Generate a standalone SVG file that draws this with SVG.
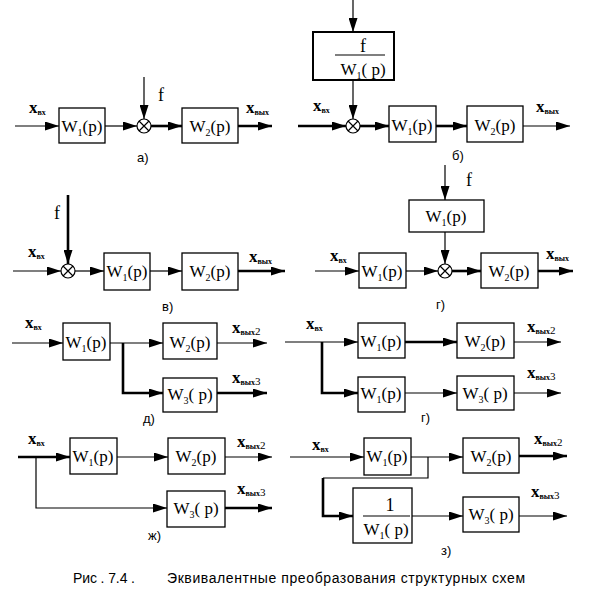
<svg xmlns="http://www.w3.org/2000/svg" width="590" height="591" viewBox="0 0 590 591">
<defs>
<marker id="ah" viewBox="0 0 14 9" refX="14" refY="4.5" markerWidth="14" markerHeight="9" markerUnits="userSpaceOnUse" orient="auto"><path d="M0,0 L14,4.5 L0,9 z" fill="#000"/></marker>
<style>
.ln{fill:none;stroke:#000;stroke-width:1.2}
.tk{fill:none;stroke:#000;stroke-width:2.6}
.ar{marker-end:url(#ah)}
.box{fill:#fff;stroke:#000;stroke-width:1.3}
.sum{fill:#fff;stroke:#000;stroke-width:1.2}
.w{font-family:"Liberation Serif","DejaVu Serif",serif;font-size:17px;fill:#000}
.s{font-size:10px}
.xl{font-family:"Liberation Serif","DejaVu Serif",serif;font-size:17px;font-weight:bold;fill:#000}
.xs{font-size:8px;font-weight:bold}
.xn{font-size:11px;font-weight:normal}
.f{font-family:"Liberation Serif","DejaVu Serif",serif;font-size:18px;fill:#000}
.lb{font-family:"Liberation Sans",Arial,sans-serif;font-size:13px;fill:#000}
.cap{font-family:"Liberation Sans",Arial,sans-serif;font-size:14px;fill:#000}
</style>
</defs>
<rect width="590" height="591" fill="#fff"/>

<g id="connectors">
<line class="ln ar" x1="15" y1="126" x2="59" y2="126"/>
<line class="ln ar" x1="105" y1="126" x2="137" y2="126"/>
<line class="ln ar" x1="144" y1="77" x2="144" y2="119"/>
<line class="tk ar" x1="151" y1="126" x2="182" y2="126"/>
<line class="tk ar" x1="238" y1="126" x2="272" y2="126"/>
<line class="ln ar" x1="353" y1="0" x2="353" y2="32"/>
<line class="ln ar" x1="353" y1="80" x2="353" y2="119"/>
<line class="tk ar" x1="298" y1="126" x2="346" y2="126"/>
<line class="tk ar" x1="360" y1="126" x2="389" y2="126"/>
<line class="tk ar" x1="436" y1="126" x2="467" y2="126"/>
<line class="ln ar" x1="523" y1="126" x2="570" y2="126"/>
<line class="tk ar" x1="68" y1="195" x2="68" y2="264"/>
<line class="ln ar" x1="13" y1="271" x2="61" y2="271"/>
<line class="ln ar" x1="75" y1="271" x2="104" y2="271"/>
<line class="ln ar" x1="150" y1="271" x2="182" y2="271"/>
<line class="tk ar" x1="238" y1="271" x2="285" y2="271"/>
<line class="ln ar" x1="445" y1="165" x2="445" y2="200"/>
<line class="ln ar" x1="445" y1="232" x2="445" y2="264"/>
<line class="ln ar" x1="315" y1="271" x2="359" y2="271"/>
<line class="ln ar" x1="406" y1="271" x2="438" y2="271"/>
<line class="tk ar" x1="452" y1="271" x2="481" y2="271"/>
<line class="tk ar" x1="538" y1="271" x2="573" y2="271"/>
<line class="ln ar" x1="12" y1="343" x2="63" y2="343"/>
<line class="ln ar" x1="110" y1="343" x2="163" y2="343"/>
<polyline class="tk ar" points="123,343 123,393 163,393"/>
<line class="ln ar" x1="217" y1="343" x2="267" y2="343"/>
<line class="tk ar" x1="217" y1="393" x2="267" y2="393"/>
<line class="ln ar" x1="285" y1="342" x2="358" y2="342"/>
<polyline class="tk ar" points="322,342 322,393 358,393"/>
<line class="tk ar" x1="405" y1="342" x2="457" y2="342"/>
<line class="ln ar" x1="514" y1="342" x2="561" y2="342"/>
<line class="ln ar" x1="405" y1="393" x2="457" y2="393"/>
<line class="ln ar" x1="514" y1="393" x2="561" y2="393"/>
<line class="tk ar" x1="18" y1="457" x2="70" y2="457"/>
<polyline class="ln ar" points="36,457 36,508 167,508"/>
<line class="ln ar" x1="117" y1="457" x2="168" y2="457"/>
<line class="ln ar" x1="225" y1="457" x2="272" y2="457"/>
<line class="tk ar" x1="225" y1="508" x2="272" y2="508"/>
<line class="ln ar" x1="290" y1="457" x2="364" y2="457"/>
<line class="ln ar" x1="411" y1="457" x2="463" y2="457"/>
<polyline class="ln" points="428,457 428,478 323,478"/>
<polyline class="tk ar" points="323,478 323,516 353,516"/>
<line class="tk ar" x1="519" y1="456" x2="567" y2="456"/>
<line class="ln ar" x1="412" y1="516" x2="463" y2="516"/>
<line class="ln ar" x1="519" y1="516" x2="567" y2="516"/>
</g>

<g id="a-w1"><rect class="box" x="59" y="108" width="46" height="35"/><text class="w" x="82" y="132" text-anchor="middle">W<tspan class="s" dy="4">1</tspan><tspan dy="-4">(p)</tspan></text></g>
<g id="a-sum"><circle class="sum" cx="144" cy="126" r="7"/><path class="ln" d="M139,121 L149,131 M149,121 L139,131"/></g>
<g id="a-w2"><rect class="box" x="182" y="108" width="56" height="35"/><text class="w" x="210" y="132" text-anchor="middle">W<tspan class="s" dy="4">2</tspan><tspan dy="-4">(p)</tspan></text></g>
<g id="a-labels">
<text class="f" x="158" y="101">f</text>
<text class="xl" x="29" y="113">x<tspan class="xs" dy="2">вх</tspan></text>
<text class="xl" x="246" y="113">x<tspan class="xs" dy="2">вых</tspan></text>
<text class="lb" x="137" y="162">а)</text>
</g>

<g id="b-fw"><rect class="box" x="313" y="32" width="81" height="48" style="stroke-width:2"/><text class="f" x="363" y="52" text-anchor="middle">f</text><line class="ln" x1="335" y1="55" x2="385" y2="55"/><text class="w" x="363" y="75" text-anchor="middle">W<tspan class="s" dy="4">1</tspan><tspan dy="-4">( p)</tspan></text></g>
<g id="b-sum"><circle class="sum" cx="353" cy="126" r="7"/><path class="ln" d="M348,121 L358,131 M358,121 L348,131"/></g>
<g id="b-w1"><rect class="box" x="389" y="106" width="47" height="36"/><text class="w" x="412" y="131" text-anchor="middle">W<tspan class="s" dy="4">1</tspan><tspan dy="-4">(p)</tspan></text></g>
<g id="b-w2"><rect class="box" x="467" y="106" width="56" height="36"/><text class="w" x="495" y="131" text-anchor="middle">W<tspan class="s" dy="4">2</tspan><tspan dy="-4">(p)</tspan></text></g>
<g id="b-labels">
<text class="xl" x="313" y="111">x<tspan class="xs" dy="2">вх</tspan></text>
<text class="xl" x="536" y="112">x<tspan class="xs" dy="2">вых</tspan></text>
<text class="lb" x="452" y="160">б)</text>
</g>

<g id="v-sum"><circle class="sum" cx="68" cy="271" r="7"/><path class="ln" d="M63,266 L73,276 M73,266 L63,276"/></g>
<g id="v-w1"><rect class="box" x="104" y="253" width="46" height="37"/><text class="w" x="127" y="277" text-anchor="middle">W<tspan class="s" dy="4">1</tspan><tspan dy="-4">(p)</tspan></text></g>
<g id="v-w2"><rect class="box" x="182" y="253" width="56" height="37"/><text class="w" x="210" y="277" text-anchor="middle">W<tspan class="s" dy="4">2</tspan><tspan dy="-4">(p)</tspan></text></g>
<g id="v-labels">
<text class="f" x="54" y="219">f</text>
<text class="xl" x="28" y="257">x<tspan class="xs" dy="2">вх</tspan></text>
<text class="xl" x="249" y="262">x<tspan class="xs" dy="2">вых</tspan></text>
<text class="lb" x="162" y="311">в)</text>
</g>

<g id="g-wtop"><rect class="box" x="409" y="200" width="75" height="32"/><text class="w" x="446" y="222" text-anchor="middle">W<tspan class="s" dy="4">1</tspan><tspan dy="-4">(p)</tspan></text></g>
<g id="g-sum"><circle class="sum" cx="445" cy="271" r="7"/><path class="ln" d="M440,266 L450,276 M450,266 L440,276"/></g>
<g id="g-w1"><rect class="box" x="359" y="253" width="47" height="35"/><text class="w" x="382" y="277" text-anchor="middle">W<tspan class="s" dy="4">1</tspan><tspan dy="-4">(p)</tspan></text></g>
<g id="g-w2"><rect class="box" x="481" y="253" width="57" height="35"/><text class="w" x="509" y="277" text-anchor="middle">W<tspan class="s" dy="4">2</tspan><tspan dy="-4">(p)</tspan></text></g>
<g id="g-labels">
<text class="f" x="466" y="186">f</text>
<text class="xl" x="330" y="261">x<tspan class="xs" dy="2">вх</tspan></text>
<text class="xl" x="546" y="259">x<tspan class="xs" dy="2">вых</tspan></text>
<text class="lb" x="436" y="309">г)</text>
</g>

<g id="d-w1"><rect class="box" x="63" y="323" width="47" height="37"/><text class="w" x="86" y="348" text-anchor="middle">W<tspan class="s" dy="4">1</tspan><tspan dy="-4">(p)</tspan></text></g>
<g id="d-w2"><rect class="box" x="163" y="323" width="54" height="36"/><text class="w" x="190" y="348" text-anchor="middle">W<tspan class="s" dy="4">2</tspan><tspan dy="-4">(p)</tspan></text></g>
<g id="d-w3"><rect class="box" x="163" y="378" width="54" height="34"/><text class="w" x="190" y="400" text-anchor="middle">W<tspan class="s" dy="4">3</tspan><tspan dy="-4">( p)</tspan></text></g>
<g id="d-labels">
<text class="xl" x="25" y="328">x<tspan class="xs" dy="2">вх</tspan></text>
<text class="xl" x="232" y="333">x<tspan class="xs" dy="2">вых</tspan><tspan class="xn">2</tspan></text>
<text class="xl" x="232" y="383">x<tspan class="xs" dy="2">вых</tspan><tspan class="xn">3</tspan></text>
<text class="lb" x="143" y="423">д)</text>
</g>

<g id="g2-w1a"><rect class="box" x="358" y="323" width="47" height="35"/><text class="w" x="381" y="347" text-anchor="middle">W<tspan class="s" dy="4">1</tspan><tspan dy="-4">(p)</tspan></text></g>
<g id="g2-w2"><rect class="box" x="457" y="323" width="57" height="35"/><text class="w" x="485" y="347" text-anchor="middle">W<tspan class="s" dy="4">2</tspan><tspan dy="-4">(p)</tspan></text></g>
<g id="g2-w1b"><rect class="box" x="358" y="377" width="47" height="35"/><text class="w" x="381" y="399" text-anchor="middle">W<tspan class="s" dy="4">1</tspan><tspan dy="-4">(p)</tspan></text></g>
<g id="g2-w3"><rect class="box" x="457" y="376" width="57" height="34"/><text class="w" x="485" y="399" text-anchor="middle">W<tspan class="s" dy="4">3</tspan><tspan dy="-4">( p)</tspan></text></g>
<g id="g2-labels">
<text class="xl" x="306" y="329">x<tspan class="xs" dy="2">вх</tspan></text>
<text class="xl" x="527" y="332">x<tspan class="xs" dy="2">вых</tspan><tspan class="xn">2</tspan></text>
<text class="xl" x="527" y="378">x<tspan class="xs" dy="2">вых</tspan><tspan class="xn">3</tspan></text>
<text class="lb" x="421" y="422">г)</text>
</g>

<g id="zh-w1"><rect class="box" x="70" y="438" width="47" height="36"/><text class="w" x="93" y="462" text-anchor="middle">W<tspan class="s" dy="4">1</tspan><tspan dy="-4">(p)</tspan></text></g>
<g id="zh-w2"><rect class="box" x="168" y="438" width="57" height="36"/><text class="w" x="196" y="462" text-anchor="middle">W<tspan class="s" dy="4">2</tspan><tspan dy="-4">(p)</tspan></text></g>
<g id="zh-w3"><rect class="box" x="167" y="491" width="58" height="36"/><text class="w" x="196" y="514" text-anchor="middle">W<tspan class="s" dy="4">3</tspan><tspan dy="-4">( p)</tspan></text></g>
<g id="zh-labels">
<text class="xl" x="28" y="444">x<tspan class="xs" dy="2">вх</tspan></text>
<text class="xl" x="237" y="447">x<tspan class="xs" dy="2">вых</tspan><tspan class="xn">2</tspan></text>
<text class="xl" x="237" y="494">x<tspan class="xs" dy="2">вых</tspan><tspan class="xn">3</tspan></text>
<text class="lb" x="148" y="540">ж)</text>
</g>

<g id="z-w1"><rect class="box" x="364" y="438" width="47" height="37"/><text class="w" x="387" y="462" text-anchor="middle">W<tspan class="s" dy="4">1</tspan><tspan dy="-4">(p)</tspan></text></g>
<g id="z-w2"><rect class="box" x="463" y="438" width="56" height="35"/><text class="w" x="491" y="462" text-anchor="middle">W<tspan class="s" dy="4">2</tspan><tspan dy="-4">(p)</tspan></text></g>
<g id="z-inv"><rect class="box" x="353" y="488" width="59" height="55"/><text class="f" x="390" y="511" text-anchor="middle">1</text><line class="ln" x1="363" y1="516" x2="410" y2="516"/><text class="w" x="386" y="535" text-anchor="middle">W<tspan class="s" dy="4">1</tspan><tspan dy="-4">( p)</tspan></text></g>
<g id="z-w3"><rect class="box" x="463" y="497" width="56" height="35"/><text class="w" x="491" y="520" text-anchor="middle">W<tspan class="s" dy="4">3</tspan><tspan dy="-4">( p)</tspan></text></g>
<g id="z-labels">
<text class="xl" x="312" y="450">x<tspan class="xs" dy="2">вх</tspan></text>
<text class="xl" x="534" y="444">x<tspan class="xs" dy="2">вых</tspan><tspan class="xn">2</tspan></text>
<text class="xl" x="531" y="497">x<tspan class="xs" dy="2">вых</tspan><tspan class="xn">3</tspan></text>
<text class="lb" x="441" y="555">з)</text>
</g>

<g id="caption">
<text class="cap" x="73" y="583" textLength="62" lengthAdjust="spacing">Рис . 7.4 .</text>
<text class="cap" x="167" y="583" textLength="358" lengthAdjust="spacing">Эквивалентные преобразования структурных схем</text>
</g>
</svg>
